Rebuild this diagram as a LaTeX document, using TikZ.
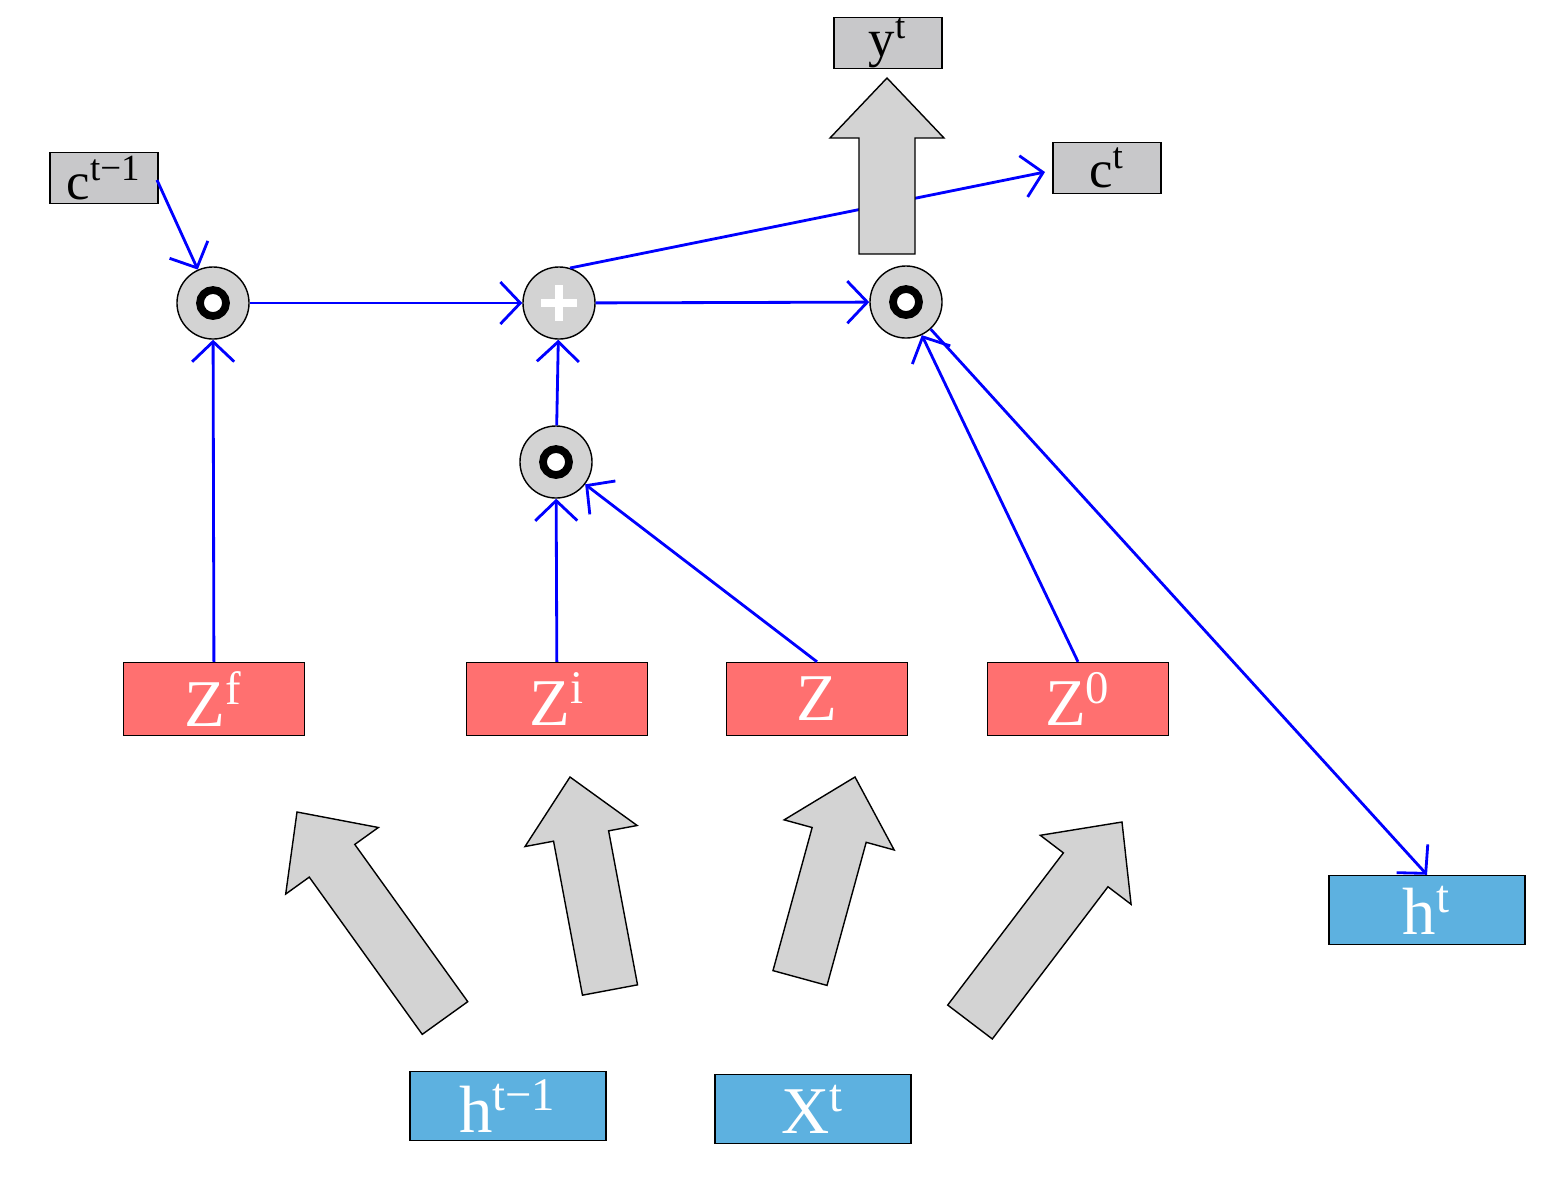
\documentclass[tikz,border=0pt]{standalone}
\usepackage{fontspec}
\setmainfont{Liberation Serif}
\usetikzlibrary{arrows.meta,calc}
\definecolor{gatered}{RGB}{255,112,112}
\definecolor{vecblue}{RGB}{93,177,224}
\definecolor{opgray}{RGB}{211,211,211}
\definecolor{boxgray}{RGB}{200,200,202}
\tikzset{
  vecnode/.style = {rectangle, inner sep=0pt, draw=black, thin},
  gate_r/.style = {vecnode, fill=gatered, text=white, minimum width=1.81cm,
    minimum height=0.73cm, font=\fontsize{19}{20}\selectfont},% porte
  vec_b/.style = {vecnode, fill=vecblue, text=white, minimum width=1.96cm,
    minimum height=0.69cm, font=\fontsize{19}{20}\selectfont},% vecteur entree/sortie
  vec_g/.style = {vecnode, fill=boxgray, minimum width=1.08cm,
    minimum height=0.51cm, font=\fontsize{15}{16}\selectfont},% cellule / sortie
  op/.style = {circle, draw=black, thin, fill=opgray, minimum size=0.72cm, inner sep=0pt},
  flow/.style = {blue, thick, -{Straight Barb[length=2mm,width=4.2mm]}},
  fat/.style = {draw=black, thin, fill=opgray},
}
% grosse fleche grise : #1 queue, #2 pointe
\newcommand{\fatarrow}[2]{%
  \coordinate (fb) at ($(#2)!0.6cm!(#1)$);
  \path[fat] ($(#1)!0.28cm!90:(#2)$)
    -- ($(fb)!0.28cm!90:(#2)$)
    -- ($(fb)!0.57cm!90:(#2)$)
    -- (#2)
    -- ($(fb)!0.57cm!-90:(#2)$)
    -- ($(fb)!0.28cm!-90:(#2)$)
    -- ($(#1)!0.28cm!-90:(#2)$) -- cycle;}
\begin{document}
\begin{tikzpicture}[x=0.01cm,y=-0.01cm]
  \useasboundingbox (0,0) rectangle (1548,1181);

  \node[vec_g] (yt) at (888,43) {y\textsuperscript{t}};
  \node[vec_g] (ct) at (1107,168) {c\textsuperscript{t}};
  \node[vec_g] (cprev) at (104,178) {c\textsuperscript{t−1}};

  \node[op] (mf) at (213,303) {};
  \node[op] (add) at (559,303) {};
  \node[op] (mo) at (906,302) {};
  \node[op] (mi) at (556,462) {};
  \foreach \m in {mf,mo,mi}
    {\draw[line width=2.2pt, fill=white] (\m) circle (0.13cm);}
  \fill[white] ($(add)+(-18,-4)$) rectangle ($(add)+(18,4)$);
  \fill[white] ($(add)+(-4,-18)$) rectangle ($(add)+(4,18)$);

  \node[gate_r] (zf) at (214,699) {Z\textsuperscript{f}};
  \node[gate_r] (zi) at (557,699) {Z\textsuperscript{i}};
  \node[gate_r] (z) at (817,699) {Z};
  \node[gate_r] (zo) at (1078,699) {Z\textsuperscript{0}};

  \node[vec_b] (ht) at (1427,910) {h\textsuperscript{t}};
  \node[vec_b] (hprev) at (508,1106) {h\textsuperscript{t−1}};
  \node[vec_b] (xt) at (813,1109) {X\textsuperscript{t}};

  \coordinate (cin) at (157,180);
  \coordinate (cend) at (1045,172);
  \coordinate (cstart) at (570,268);

  %   cellule
  \path[flow] (cin) edge (mf);
  \path[flow] (zf) edge (mf);
  \path[flow] (mf) edge (add);
  \path[flow] (add) edge (mo);
  \path[flow] (cstart) edge (cend);
  %   entree
  \path[flow] (zi) edge (mi);
  \path[flow] (z.north) edge (mi);
  \path[flow] (mi) edge (add);
  %   sortie
  \path[flow] (zo.north) edge (mo);
  \path[flow] (mo) edge (ht.north);

  \coordinate (a1t) at (445,1018); \coordinate (a1h) at (297,812);
  \coordinate (a2t) at (610,990); \coordinate (a2h) at (570,777);
  \coordinate (a3t) at (800,978); \coordinate (a3h) at (855,777);
  \coordinate (a4t) at (970,1022); \coordinate (a4h) at (1122,822);
  \coordinate (a5t) at (887,254); \coordinate (a5h) at (887,78);
  \foreach \a in {a1,a2,a3,a4,a5}
    {\fatarrow{\a t}{\a h}}
\end{tikzpicture}
\end{document}
